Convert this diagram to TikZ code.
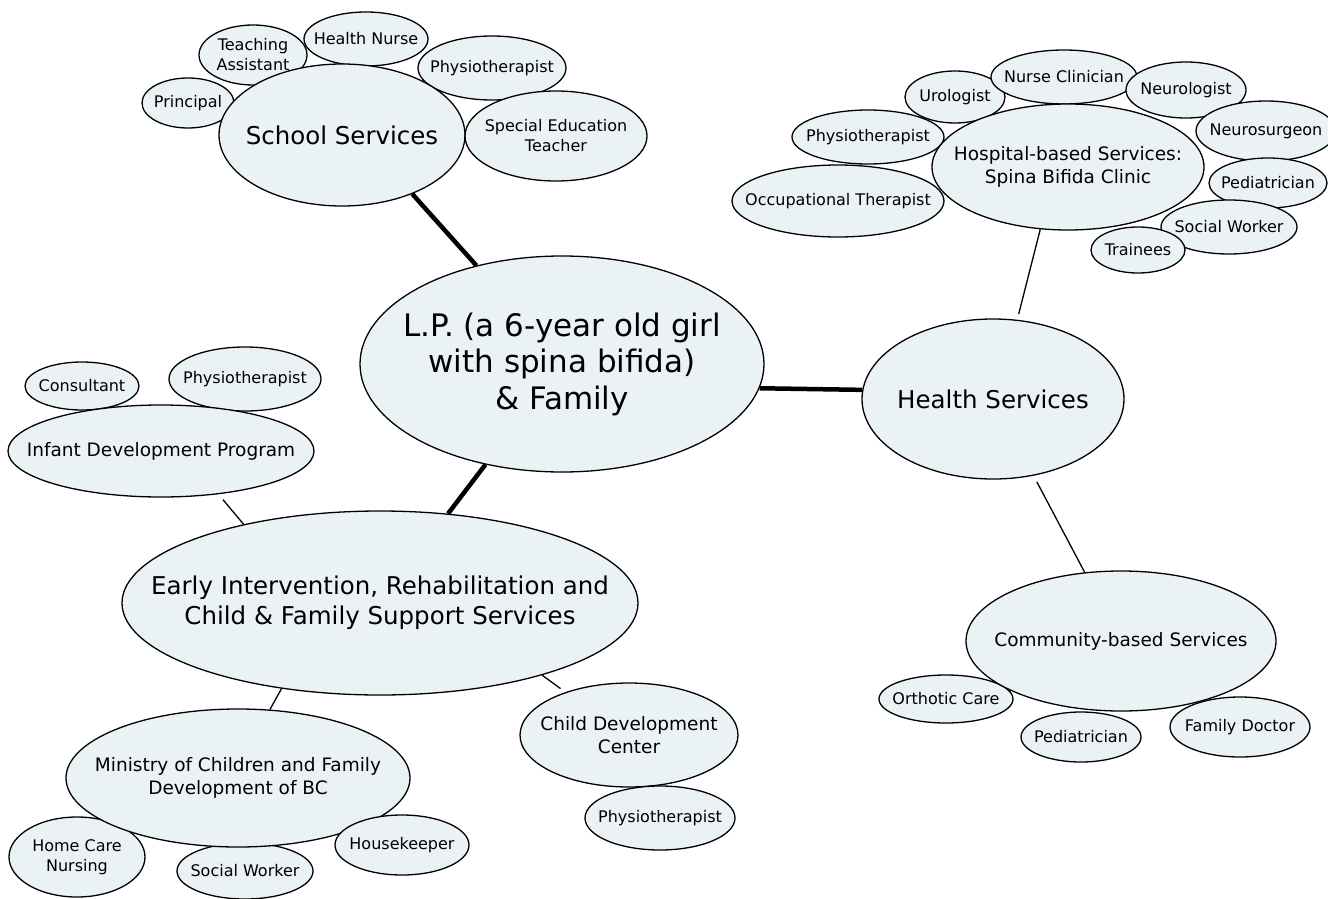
\documentclass[tikz,border=0pt]{standalone}
\usepackage{fontspec}
\setmainfont{DejaVu Sans}
\usepackage{tikz}
\usetikzlibrary{shapes,arrows,positioning}
\definecolor{bubble}{RGB}{234,242,245}

\begin{document}
\begin{tikzpicture}[x=1pt,y=-1pt,% one unit per pixel, y grows downward
			every node/.style={
				ellipse,
				draw=black,
				fill=bubble,
				line width=1.3pt,
				align=center,		% use this so that the "\\" for line break works
				inner xsep=-60pt,	% the ellipse size comes from dims, not from the text
				inner ysep=0pt
			},
			leaf/.style={font=\fontsize{16}{20}\selectfont},
			branch/.style={font=\fontsize{18.5}{23}\selectfont},
			hub/.style={font=\fontsize{24.5}{30}\selectfont},
			core/.style={font=\fontsize{31}{36.5}\selectfont},
			dims/.style 2 args={minimum width=#1, minimum height=#2},
			every edge/.style={draw,line width=1.3pt},
			spoke/.style={draw,line width=4.5pt}
		]
		\useasboundingbox (0,0) rectangle (1328,899);
		% School
		\node[leaf,dims={92}{50}](S1) at (188,103){Principal};
		\node[leaf,dims={124}{54}](S3) at (366,39){Health Nurse};
		\node[leaf,dims={108}{60}](S2) at (253,55){Teaching\\Assistant};
		\node[leaf,dims={148}{64}](S4) at (492,68){Physiotherapist};
		\node[hub,dims={246}{142}](SS) at (342,135){School Services};
		\node[leaf,dims={182}{90}](S5) at (556,136){Special Education\\Teacher};
		% Hospital
		\node[leaf,dims={152}{54}](H1) at (868,137){Physiotherapist};
		\node[leaf,dims={212}{72}](H2) at (838,201){Occupational Therapist};
		\node[leaf,dims={100}{52}](H3) at (955,97){Urologist};
		\node[leaf,dims={146}{54}](H4) at (1064,77){Nurse Clinician};
		\node[leaf,dims={120}{56}](H5) at (1186,90){Neurologist};
		\node[leaf,dims={140}{60}](H6) at (1266,131){Neurosurgeon};
		\node[leaf,dims={118}{50}](H7) at (1268,183){Pediatrician};
		\node[branch,dims={272}{126}](HB) at (1068,167){Hospital-based Services:\\Spina Bifida Clinic};
		\node[leaf,dims={136}{54}](H8) at (1229,227){Social Worker};
		\node[leaf,dims={94}{46}](H9) at (1138,250){Trainees};
		% Health and community
		\node[hub,dims={262}{160}](HS) at (993,399){Health Services};
		\node[leaf,dims={134}{48}](C1) at (946,699){Orthotic Care};
		\node[branch,dims={310}{140}](CB) at (1121,641){Community-based Services};
		\node[leaf,dims={120}{50}](C2) at (1081,737){Pediatrician};
		\node[leaf,dims={140}{60}](C3) at (1240,727){Family Doctor};
		% Infant development
		\node[leaf,dims={114}{48}](I1) at (82,386){Consultant};
		\node[leaf,dims={152}{64}](I2) at (245,379){Physiotherapist};
		\node[branch,dims={306}{92}](IDP) at (161,451){Infant Development Program};
		% Early intervention
		\node[hub,dims={516}{184}](EI) at (380,603){Early Intervention, Rehabilitation and\\Child \& Family Support Services};
		\node[leaf,dims={136}{80}](M1) at (77,857){Home Care\\Nursing};
		\node[leaf,dims={136}{56}](M2) at (245,871){Social Worker};
		\node[branch,dims={344}{138}](MCF) at (238,778){Ministry of Children and Family\\Development of BC};
		\node[leaf,dims={134}{60}](M3) at (402,845){Housekeeper};
		\node[branch,dims={218}{104}](CDC) at (629,735){Child Development\\Center};
		\node[leaf,dims={150}{64}](D1) at (660,818){Physiotherapist};
		% the child
		\node[core,dims={404}{216}](LP) at (562,364){L.P. (a 6-year old girl\\with spina bifida)\\\& Family};
		\path
		(LP.131) edge[spoke] (SS.320)
		(LP.353) edge[spoke] (HS.176)
		(LP) edge[spoke] (EI)
		(HB.246) edge[shorten >=6pt] (HS.73)
		(HS) edge[shorten <=7pt] (CB)
		(EI.150) edge[shorten >=7pt] (IDP.323)
		(EI.221) edge (MCF.65)
		(EI.336) edge[shorten >=6pt] (CDC.146)
		;
	\end{tikzpicture}
\end{document}
